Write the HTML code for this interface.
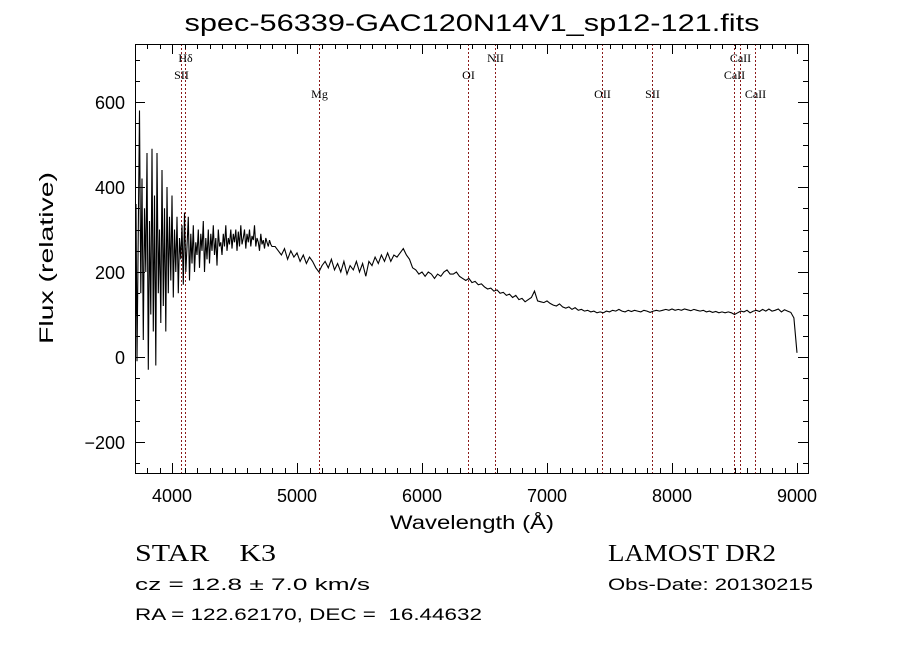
<!DOCTYPE html>
<html><head><meta charset="utf-8"><style>
html,body{margin:0;padding:0;background:#fff;}
svg{display:block;}
text{fill:#000;}
</style></head><body>
<svg id="chart" width="900" height="649" viewBox="0 0 900 649" xmlns="http://www.w3.org/2000/svg">
<rect x="0" y="0" width="900" height="649" fill="#fff"/>
<text x="472" y="31" font-family="Liberation Sans, sans-serif" font-size="24" text-anchor="middle" textLength="575" lengthAdjust="spacingAndGlyphs">spec-56339-GAC120N14V1_sp12-121.fits</text>
<g id="lines"></g>
<g id="axes"></g>
<path id="spec" fill="none" stroke="#000" stroke-width="1.1"/>
<text x="472" y="529" font-family="Liberation Sans, sans-serif" font-size="19" text-anchor="middle" textLength="164" lengthAdjust="spacingAndGlyphs">Wavelength (Å)</text>
<text transform="translate(53,258) rotate(-90)" font-family="Liberation Sans, sans-serif" font-size="19" text-anchor="middle" textLength="172" lengthAdjust="spacingAndGlyphs">Flux (relative)</text>
<text x="135" y="561" font-family="Liberation Serif, serif" font-size="24" textLength="141" lengthAdjust="spacingAndGlyphs" xml:space="preserve">STAR    K3</text>
<text x="608" y="561" font-family="Liberation Serif, serif" font-size="24" textLength="168" lengthAdjust="spacingAndGlyphs">LAMOST DR2</text>
<text x="135" y="590" font-family="Liberation Sans, sans-serif" font-size="17" textLength="235" lengthAdjust="spacingAndGlyphs">cz = 12.8 ± 7.0 km/s</text>
<text x="608" y="590" font-family="Liberation Sans, sans-serif" font-size="17" textLength="205" lengthAdjust="spacingAndGlyphs">Obs-Date: 20130215</text>
<text x="135" y="620" font-family="Liberation Sans, sans-serif" font-size="17" textLength="347" lengthAdjust="spacingAndGlyphs" xml:space="preserve">RA = 122.62170, DEC =  16.44632</text>
</svg>
<script>
const xTicks = [4000,5000,6000,7000,8000,9000];
const yTicks = [-200,0,200,400,600];
const lineNames = ["Hδ","SII","Mg","OI","NII","OII","SII","CaII","CaII","CaII"];
const lineWaves = [4102,4072,5175,6364,6583,7440,7840,8542,8498,8662];
const lineRows = [0,1,2,1,0,2,2,0,1,2];
// blue segment: 3700..4800 step 10
const blueStart = 3700, blueStep = 10;
const blueFlux = [100,360,-10,300,580,150,420,40,350,200,
480,-30,320,100,490,60,380,-20,480,150,
300,80,440,120,350,60,400,150,330,180,
380,140,300,200,330,150,280,230,310,170,
340,200,260,330,180,290,220,310,200,270,
240,300,210,290,250,320,200,280,230,300,
220,290,250,310,240,280,215,300,260,270,
240,290,260,310,250,280,265,300,255,290,
270,300,250,295,260,310,265,280,300,255,
290,270,300,260,285,275,310,260,280,270,
250,290,265,275,255,280,270,260,275,265,
260];
// red segment: 4825..9000 step 25
const redStart = 4825, redStep = 25;
const redFlux = [260,250,240,255,230,250,235,245,
225,240,220,235,225,210,200,215,225,210,230,205,220,200,225,195,215,205,225,200,
220,190,225,215,235,220,240,225,245,225,240,235,245,255,240,230,210,205,195,200,
190,200,195,185,195,190,200,205,195,195,200,190,185,180,185,175,178,170,172,165,
160,162,155,158,150,152,145,148,140,145,135,138,130,135,140,155,132,130,128,132,
126,122,120,125,118,115,118,112,116,110,112,108,110,106,108,104,106,104,108,106,
110,108,112,108,106,110,107,110,108,106,110,108,105,108,110,108,110,112,110,113,
110,112,110,113,111,109,112,110,108,110,106,108,105,107,104,106,104,106,104,100,
104,108,106,110,104,108,110,107,112,108,113,108,110,113,106,111,108,105,92,10];

const L=135,R=808,T=44,B=473;
const xs = w => 172 + (w-4000)*0.125;
const ys = f => 357 - f*0.425;
const NS="http://www.w3.org/2000/svg";
function mk(tag, attrs, parent){const e=document.createElementNS(NS,tag);for(const k in attrs)e.setAttribute(k,attrs[k]);parent.appendChild(e);return e;}
const axes=document.getElementById('axes');
const lines=document.getElementById('lines');

lineWaves.forEach((w,i)=>{
  const x=Math.round(xs(w))+0.5;
  const l=mk('line',{x1:x,x2:x,y1:T,y2:B,stroke:'#8b1a1a','stroke-width':1,'stroke-dasharray':'2,2'},lines);
  
  
  const t=mk('text',{x:x,y:[62,79,98][lineRows[i]],'font-family':'Liberation Serif, serif','font-size':12,'text-anchor':'middle'},lines);
  t.textContent=lineNames[i];
  
  
});

const fr=mk('rect',{x:L+0.5,y:T+0.5,width:R-L,height:B-T,fill:'none',stroke:'#000','stroke-width':1},axes);



for(let w=3800;w<=9000;w+=100){
  const x=Math.round(xs(w))+0.5; if(x<L||x>R) continue;
  const len = (w%1000===0)?10:5;
  mk('line',{x1:x,x2:x,y1:B,y2:B-len,stroke:'#000'},axes);
  mk('line',{x1:x,x2:x,y1:T,y2:T+len,stroke:'#000'},axes);
}
xTicks.forEach(w=>{
  const t=mk('text',{x:xs(w),y:502,'font-family':'Liberation Sans, sans-serif','font-size':18,'text-anchor':'middle'},axes);
  t.textContent=w;
  
  
});
for(let f=-250;f<=700;f+=50){
  const y=Math.round(ys(f))+0.5; if(y<T||y>B) continue;
  const len=(f%200===0)?10:5;
  mk('line',{x1:L,x2:L+len,y1:y,y2:y,stroke:'#000'},axes);
  mk('line',{x1:R,x2:R-len,y1:y,y2:y,stroke:'#000'},axes);
}
yTicks.forEach(f=>{
  const t=mk('text',{x:125,y:ys(f)+7,'font-family':'Liberation Sans, sans-serif','font-size':18,'text-anchor':'end'},axes);
  t.textContent=(f<0?'\u2212'+(-f):f);
  
  
});

let d='';
let first=true;
function add(w,f){
  let x=xs(w); if(x<L+1) x=L+1;
  d+=(first?'M':'L')+x.toFixed(1)+','+ys(f).toFixed(1);
  first=false;
}
blueFlux.forEach((f,i)=>add(blueStart+i*blueStep,f));
redFlux.forEach((f,i)=>add(redStart+i*redStep,f));
document.getElementById('spec').setAttribute('d',d);
</script>
</body></html>
